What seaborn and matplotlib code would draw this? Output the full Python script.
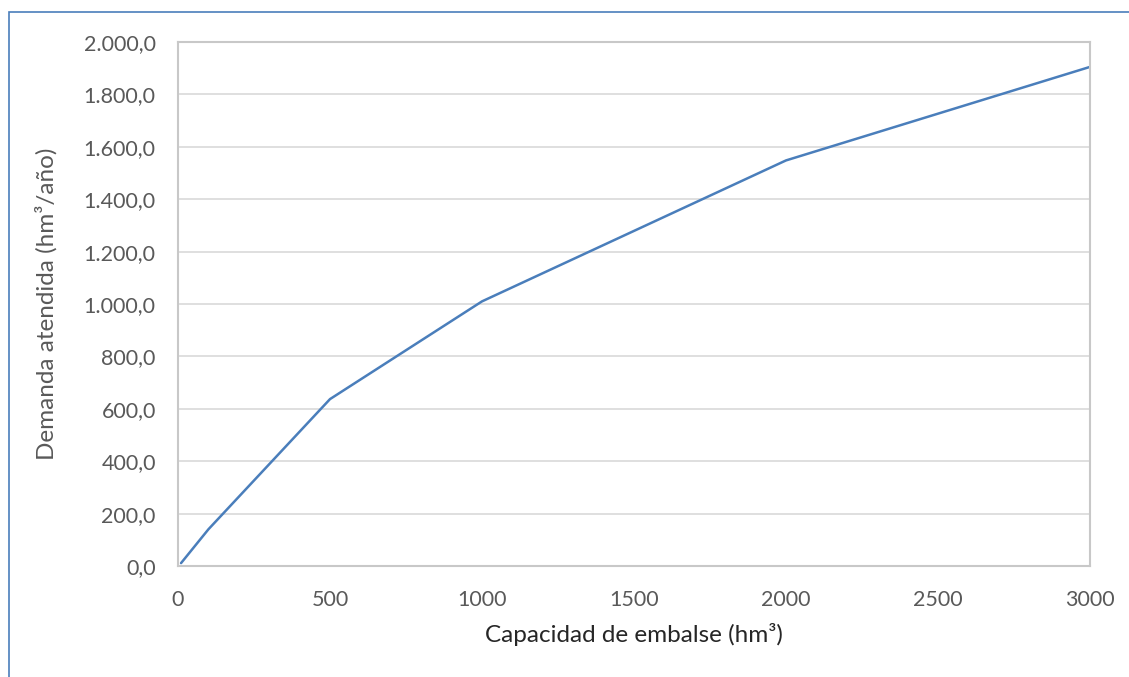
import matplotlib
matplotlib.use("Agg")
import matplotlib.pyplot as plt
import matplotlib.ticker as mticker
import pandas as pd
import seaborn as sns
from matplotlib.patches import Rectangle

# Data
capacidad = [10, 100, 500, 1000, 2000, 3000]
demanda = [11, 140, 637, 1010, 1548, 1905]

df = pd.DataFrame({"Capacidad": capacidad, "Demanda": demanda})

sns.set_theme(style="white")
plt.rcParams["font.family"] = ["Lato", "DejaVu Sans"]

fig = plt.figure(figsize=(11.29, 6.77), dpi=100)
ax = fig.add_axes([178 / 1129, 1 - 566 / 677, (1090 - 178) / 1129, (566 - 42) / 677])

# outer chart frame (only top and left edges visible in the reference)
fig.add_artist(Rectangle((9 / 1129, -0.1), 1.2, 1 - 12 / 677 + 0.1,
                         transform=fig.transFigure, fill=False,
                         edgecolor="#4a7ebb", linewidth=1.2))

sns.lineplot(data=df, x="Capacidad", y="Demanda", ax=ax,
             color="#4a7ebb", linewidth=1.8)

ax.set_xlim(0, 3000)
ax.set_ylim(0, 2000)
ax.set_xticks(range(0, 3001, 500))
ax.set_yticks(range(0, 2001, 200))


def fmt_es(v, pos):
    s = f"{v:,.1f}"
    return s.replace(",", "X").replace(".", ",").replace("X", ".")


ax.yaxis.set_major_formatter(mticker.FuncFormatter(fmt_es))
ax.grid(axis="y", color="#d9d9d9", linewidth=1.2)
for sp in ax.spines.values():
    sp.set_color("#c8c8c8")
    sp.set_linewidth(1.5)

ax.tick_params(axis="both", colors="#595959", labelsize=15.5, length=0)
ax.tick_params(axis="x", pad=17)
ax.tick_params(axis="y", pad=16)
ax.set_xlabel("Capacidad de embalse (hm³)", fontsize=17.5, color="#262626", labelpad=10)
ax.set_ylabel("Demanda atendida (hm³/año)", fontsize=17.5, color="#595959", labelpad=19)

fig.savefig("out.png", dpi=100)
